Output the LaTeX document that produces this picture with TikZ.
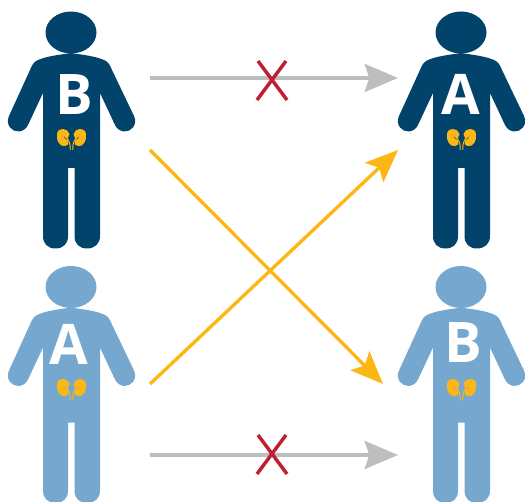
\documentclass[tikz,border=0pt]{standalone}
\usepackage{fontspec}
\setmainfont{Open Sans}
\usetikzlibrary{arrows.meta}
\definecolor{darkblue}{HTML}{02436B}
\definecolor{lightblue}{HTML}{76A8CF}
\definecolor{kidney}{HTML}{FDB714}
\definecolor{greyline}{HTML}{BEBEBE}
\definecolor{crossred}{HTML}{BE2032}
\tikzset{
  x=0.75pt,y=-0.75pt,
  letter/.style={text=white,font=\bfseries\fontsize{42}{42}\selectfont,inner sep=0pt},
  greyarrow/.style={draw=greyline,line width=2.6pt,-{Stealth[length=25pt,width=21pt,inset=3.5pt]}},
  goldarrow/.style={draw=kidney,line width=2.5pt,-{Stealth[length=24.5pt,width=20pt,inset=5pt]}},
  crossline/.style={draw=crossred,line width=2.6pt},
  pics/person/.style={code={
    \fill[#1] (71,32.5) ellipse [x radius=25.5,y radius=21];
    \fill[#1] (71,53)
      .. controls (62,54.5) and (46,56) .. (37,60.5)
      .. controls (33.5,62.5) and (32,65) .. (30,70)
      -- (9,116)
      .. controls (5,125) and (12,132) .. (19,131.5)
      .. controls (23,131) and (26,129) .. (28,125)
      -- (43,93) -- (43,236)
      .. controls (43,244) and (48,248.5) .. (55.5,248.5)
      .. controls (63,248.5) and (68,244) .. (68,236)
      -- (68,168) -- (74.500,168) -- (74.500,236)
      .. controls (74.500,244) and (79.500,248.5) .. (87,248.5)
      .. controls (94.500,248.5) and (100,244) .. (100,236)
      -- (100,93) -- (115,125)
      .. controls (117,129) and (120,131) .. (124,131.5)
      .. controls (131,132) and (138,125) .. (134,116)
      -- (112,70)
      .. controls (110,65) and (108.500,62.500) .. (105,60.500)
      .. controls (96,56) and (80,54.500) .. (71,53) -- cycle;
  }},
  pics/kidneys/.style={code={
    \fill[kidney] (69.500,134)
      .. controls (68,128) and (58,126.500) .. (57,134)
      .. controls (56,141) and (60,147) .. (65,146)
      .. controls (70,145) and (68.500,141) .. (67.500,139.500)
      .. controls (66.500,137.500) and (70,137) .. (69.500,134) -- cycle;
    \fill[kidney] (73.500,134)
      .. controls (75,128) and (85,126.500) .. (86,134)
      .. controls (87,141) and (83,147) .. (78,146)
      .. controls (73,145) and (74.500,141) .. (75.500,139.500)
      .. controls (76.500,137.500) and (73,137) .. (73.500,134) -- cycle;
    \draw[kidney,line width=0.7pt] (66,137) .. controls (69,140) and (70.300,143) .. (70.300,150);
    \draw[kidney,line width=0.7pt] (77,137) .. controls (74,140) and (72.700,143) .. (72.700,150);
    \draw[#1,line width=0.35pt] (64,137) -- (67,139.500);
    \draw[#1,line width=0.35pt] (79,137) -- (76,139.500);
  }}
}
\begin{document}
\begin{tikzpicture}
\useasboundingbox (0,0) rectangle (525,502);
\pic {person={darkblue}};
\pic at (390,0) {person={darkblue}};
\pic at (0,254.5) {person={lightblue}};
\pic at (390,254.5) {person={lightblue}};
\pic {kidneys={darkblue}};
\pic at (390,0) {kidneys={darkblue}};
\pic at (0,250) {kidneys={lightblue}};
\pic at (390,250) {kidneys={lightblue}};
\node[letter] (b1) at (74.5,95) {B};
\node[letter] (a1) at (461,94) {A};
\node[letter] (a2) at (69,344) {A};
\node[letter] (b2) at (463,343) {B};
% connector ends
\coordinate (s1) at (150,78);   \coordinate (e1) at (398,78);
\coordinate (s2) at (150,455);  \coordinate (e2) at (398,455);
\coordinate (s3) at (150,150);  \coordinate (e3) at (383,384);
\coordinate (s4) at (150,384);  \coordinate (e4) at (398,150);
\draw[greyarrow] (s1) -- (e1);
\draw[greyarrow] (s2) -- (e2);
\draw[goldarrow] (s3) -- (e3);
\draw[goldarrow] (s4) -- (e4);
\coordinate (x1a) at (258,61); \coordinate (x1b) at (287,100);
\coordinate (x1c) at (286,61); \coordinate (x1d) at (257,100);
\coordinate (x2a) at (258,435); \coordinate (x2b) at (287,474);
\coordinate (x2c) at (286,435); \coordinate (x2d) at (257,474);
\draw[crossline] (x1a) -- (x1b);
\draw[crossline] (x1c) -- (x1d);
\draw[crossline] (x2a) -- (x2b);
\draw[crossline] (x2c) -- (x2d);
\end{tikzpicture}
\end{document}
